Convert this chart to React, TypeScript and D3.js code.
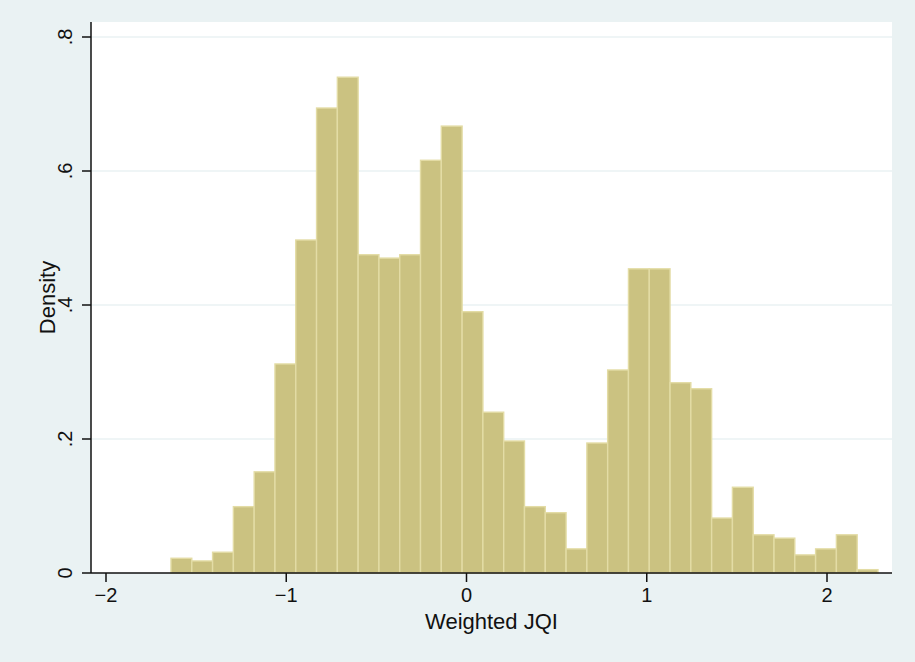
import React, { useEffect, useRef } from "react"
import * as d3 from "d3"

// histogram of Weighted JQI
const binStart = -1.6394
const binWidth = 0.11536
const densities = [
  0.022, 0.018, 0.031, 0.099, 0.151, 0.312, 0.497, 0.694, 0.74, 0.475,
  0.47, 0.475, 0.616, 0.667, 0.39, 0.24, 0.197, 0.099, 0.09, 0.036,
  0.194, 0.303, 0.454, 0.454, 0.284, 0.275, 0.082, 0.128, 0.057, 0.052,
  0.027, 0.036, 0.057, 0.005,
]
const xTicks = [-2, -1, 0, 1, 2]
const xTickLabels = ["\u22122", "\u22121", "0", "1", "2"]
const yTicks = [0, 0.2, 0.4, 0.6, 0.8]
const yTickLabels = ["0", ".2", ".4", ".6", ".8"]

const width = 915
const height = 662
const plot = { left: 91, right: 892, top: 22, bottom: 573 }
const font = "'Liberation Sans', Arial, Helvetica, sans-serif"

const App = () => {
  const ref = useRef<SVGSVGElement | null>(null)

  useEffect(() => {
    drawChart()
  }, [])

  function drawChart() {
    const svg = d3.select(ref.current)
    svg.selectAll("*").remove()

    const x = d3.scaleLinear().domain([-2, 2]).range([106, 827])
    const y = d3.scaleLinear().domain([0, 0.8]).range([573, 37])

    svg.append("rect")
      .attr("width", width).attr("height", height)
      .attr("fill", "#eaf2f3")

    svg.append("rect")
      .attr("x", plot.left).attr("y", plot.top)
      .attr("width", plot.right - plot.left)
      .attr("height", plot.bottom - plot.top)
      .attr("fill", "#ffffff")

    // grid
    svg.append("g")
      .selectAll("line")
      .data(yTicks.filter((d) => d > 0))
      .enter()
      .append("line")
      .attr("x1", plot.left).attr("x2", plot.right)
      .attr("y1", (d) => y(d)).attr("y2", (d) => y(d))
      .attr("stroke", "#eaf2f3")
      .attr("stroke-width", 1.5)

    // bars
    svg.append("g")
      .selectAll("rect")
      .data(densities)
      .enter()
      .append("rect")
      .attr("x", (_, i) => x(binStart + i * binWidth))
      .attr("width", (_, i) => x(binStart + (i + 1) * binWidth) - x(binStart + i * binWidth))
      .attr("y", (d) => y(d))
      .attr("height", (d) => y(0) - y(d))
      .attr("fill", "#cbc281")
      .attr("stroke", "#e3dca5")
      .attr("stroke-width", 1.4)

    // axes
    const ax = svg.append("g").attr("stroke", "#111").attr("stroke-width", 1.5)
    ax.append("line")
      .attr("x1", plot.left).attr("x2", plot.left)
      .attr("y1", plot.top).attr("y2", plot.bottom)
    ax.append("line")
      .attr("x1", plot.left).attr("x2", plot.right)
      .attr("y1", plot.bottom).attr("y2", plot.bottom)
    ax.selectAll(".yt")
      .data(yTicks)
      .enter()
      .append("line")
      .attr("x1", plot.left - 9).attr("x2", plot.left)
      .attr("y1", (d) => y(d)).attr("y2", (d) => y(d))
    ax.selectAll(".xt")
      .data(xTicks)
      .enter()
      .append("line")
      .attr("x1", (d) => x(d)).attr("x2", (d) => x(d))
      .attr("y1", plot.bottom).attr("y2", plot.bottom + 9)

    // tick labels
    svg.append("g")
      .selectAll("text")
      .data(xTicks)
      .enter()
      .append("text")
      .attr("x", (d) => x(d))
      .attr("y", 602)
      .attr("text-anchor", "middle")
      .style("font-family", font)
      .style("font-size", "20px")
      .style("fill", "#111")
      .text((_, i) => xTickLabels[i])

    svg.append("g")
      .selectAll("text")
      .data(yTicks)
      .enter()
      .append("text")
      .attr("transform", (d) => `translate(72, ${y(d)}) rotate(-90)`)
      .attr("text-anchor", "middle")
      .style("font-family", font)
      .style("font-size", "20px")
      .style("fill", "#111")
      .text((_, i) => yTickLabels[i])

    // axis titles
    svg.append("text")
      .attr("x", (plot.left + plot.right) / 2)
      .attr("y", 629)
      .attr("text-anchor", "middle")
      .style("font-family", font)
      .style("font-size", "22px")
      .style("fill", "#111")
      .text("Weighted JQI")

    svg.append("text")
      .attr("transform", `translate(55, ${(plot.top + plot.bottom) / 2}) rotate(-90)`)
      .attr("text-anchor", "middle")
      .style("font-family", font)
      .style("font-size", "22px")
      .style("fill", "#111")
      .text("Density")
  }

  return (
    <svg
      ref={ref}
      width={width}
      height={height}
      style={{ position: "absolute", left: 0, top: 0, display: "block" }}
    />
  )
}

export default App
